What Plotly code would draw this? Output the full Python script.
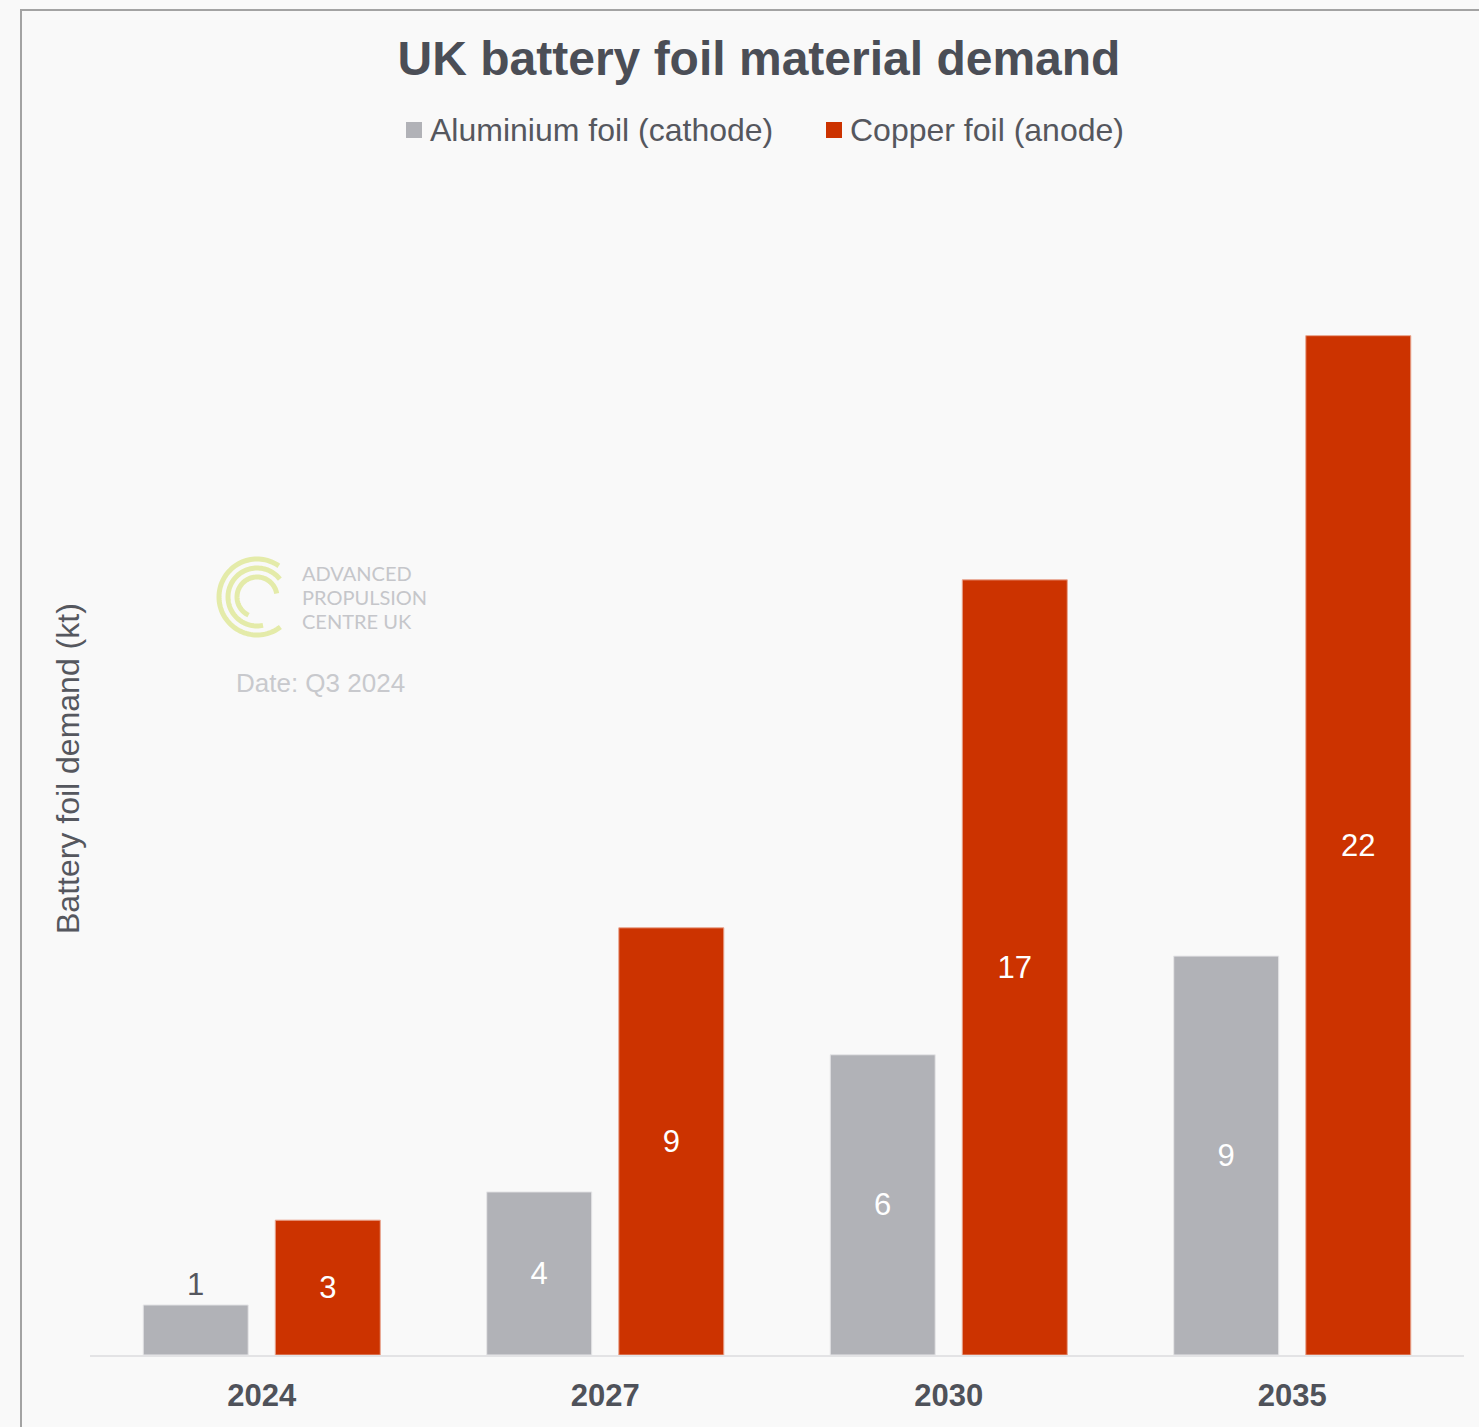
import numpy as np
import plotly.graph_objects as go

# ---- data (kt) ----
years = ["2024", "2027", "2030", "2035"]
aluminium_kt = [1.08, 3.52, 6.48, 8.61]
copper_kt = [2.91, 9.22, 16.73, 22.0]
series_names = ["Aluminium foil (cathode)", "Copper foil (anode)"]
aluminium_label_pos = ["outside", "inside", "inside", "inside"]

# ---- page geometry (px) ----
W, H = 1479, 1427
L, R, T, B = 90, 15, 243, 72
PW, PH = W - L - R, H - T - B

def px_x(x):
    return (x - L) / PW

def px_y(y):
    return 1 - (y - T) / PH

FONT = "Liberation Sans, Arial, sans-serif"
AL_COLOR = "#b1b2b7"
CU_COLOR = "#cc3300"
TEXT_COLOR = "#55575e"

fig = go.Figure()
fig.add_trace(go.Bar(
    x=years, y=aluminium_kt, name=series_names[0], showlegend=False,
    marker=dict(color=AL_COLOR, line=dict(color="#e6e6e8", width=1)),
    texttemplate="%{y:.0f}", textposition=aluminium_label_pos,
    insidetextanchor="middle", constraintext="none", textangle=0,
    insidetextfont=dict(family=FONT, size=31, color="#ffffff"),
    outsidetextfont=dict(family=FONT, size=31, color=TEXT_COLOR),
    cliponaxis=False, hoverinfo="skip",
))
fig.add_trace(go.Bar(
    x=years, y=copper_kt, name=series_names[1], showlegend=False,
    marker=dict(color=CU_COLOR, line=dict(color="#e9a58f", width=1)),
    texttemplate="%{y:.0f}", textposition="inside",
    insidetextanchor="middle", constraintext="none", textangle=0,
    insidetextfont=dict(family=FONT, size=31, color="#ffffff"),
    cliponaxis=False, hoverinfo="skip",
))

# legend: square swatch + label for each series
legend_items = [(406, AL_COLOR, series_names[0]), (826, CU_COLOR, series_names[1])]
for x0, color, name in legend_items:
    fig.add_shape(type="rect", xref="paper", yref="paper",
                  x0=px_x(x0), x1=px_x(x0 + 16), y0=px_y(138), y1=px_y(122),
                  fillcolor=color, line=dict(width=0))
    fig.add_annotation(text=name, xref="paper", yref="paper",
                       x=px_x(x0 + 22), y=px_y(130), xanchor="left", yanchor="middle",
                       showarrow=False, font=dict(family=FONT, size=32, color=TEXT_COLOR))

# outer frame (top and left edges)
frame = dict(type="line", xref="paper", yref="paper",
             line=dict(color="#a3a3a3", width=2), layer="above")
fig.add_shape(**frame, x0=px_x(20), x1=px_x(W + 5), y0=px_y(10), y1=px_y(10))
fig.add_shape(**frame, x0=px_x(21), x1=px_x(21), y0=px_y(10), y1=px_y(H + 5))

# watermark logo: three concentric open arcs
cx, cy = 257, 597
arcs = [(38, 55, 308), (29, 38, 282), (20, 10, 245)]
for r, a0, a1 in arcs:
    th = np.radians(np.linspace(a0, a1, 80))
    xs = px_x(cx + r * np.cos(th))
    ys = px_y(cy - r * np.sin(th))
    path = "M " + " L ".join(f"{a:.5f},{b:.5f}" for a, b in zip(xs, ys))
    fig.add_shape(type="path", path=path, xref="paper", yref="paper",
                  line=dict(color="#e4eba9", width=5), layer="below")

logo_lines = ["ADVANCED", "PROPULSION", "CENTRE UK"]
for i, txt in enumerate(logo_lines):
    fig.add_annotation(text=txt, xref="paper", yref="paper",
                       x=px_x(300), y=px_y(573 + 24 * i),
                       xanchor="left", yanchor="middle", showarrow=False,
                       font=dict(family="Lato, Open Sans, sans-serif", size=20, color="#c5c6ca"))
fig.add_annotation(text="Date: Q3 2024", xref="paper", yref="paper",
                   x=px_x(234), y=px_y(683), xanchor="left", yanchor="middle",
                   showarrow=False, font=dict(family=FONT, size=26, color="#c8c9cd"))

# y-axis title
fig.add_annotation(text="Battery foil demand (kt)", xref="paper", yref="paper",
                   x=px_x(68), y=px_y(769), xanchor="center", yanchor="middle",
                   textangle=-90, showarrow=False,
                   font=dict(family=FONT, size=32, color=TEXT_COLOR))

fig.update_layout(
    width=W, height=H,
    margin=dict(l=L, r=R, t=T, b=B, autoexpand=False),
    paper_bgcolor="#f9f9f9", plot_bgcolor="#f9f9f9",
    barmode="group", bargap=0.231, bargroupgap=0.205,
    title=dict(text="<b>UK battery foil material demand</b>",
               xref="container", yref="container",
               x=759 / W, y=1 - 58 / H, xanchor="center", yanchor="middle",
               font=dict(family=FONT, size=48, color="#4b4e56")),
    xaxis=dict(showline=True, linecolor="#e3e3e5", linewidth=2,
               showgrid=False, ticks="", ticklabelstandoff=12,
               tickfont=dict(family=FONT, size=31, color="#4f525a", weight="bold")),
    yaxis=dict(range=[0, 24], visible=False, showgrid=False, zeroline=False),
    showlegend=False,
)

fig.write_html("out.html")
